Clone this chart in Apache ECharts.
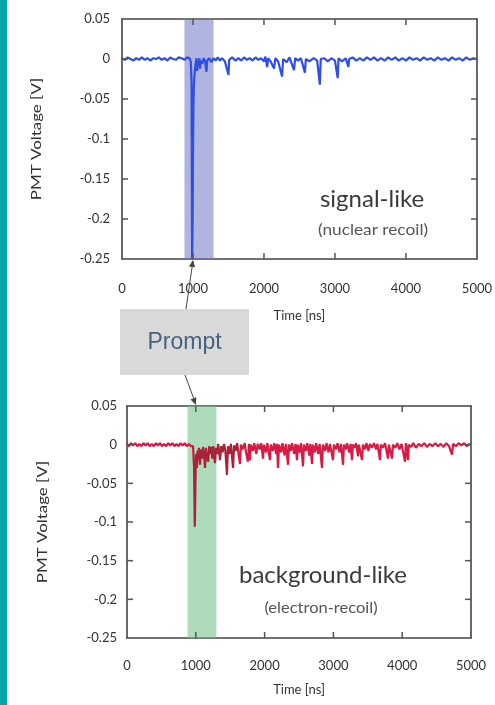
<!DOCTYPE html>
<html>
<head>
<meta charset="utf-8">
<script src="https://cdn.jsdelivr.net/npm/echarts@6/dist/echarts.min.js"></script>
<style>
html,body{margin:0;padding:0;background:#fff;}
#chart{width:495px;height:705px;filter:blur(0.4px);}
</style>
</head>
<body>
<div id="chart"></div>
<script>
// ---- data (time in ns, PMT voltage in V) ----
var timeTicks = [0, 1000, 2000, 3000, 4000, 5000];
var voltTicks = [-0.25, -0.2, -0.15, -0.1, -0.05, 0, 0.05];
var promptWindow = [880, 1290];

var signalTrace = [
[0,0.001],[40,-0.001],[80,0.002],[120,0],[160,-0.002],[200,0.001],[240,-0.001],[280,0.002],[320,-0.001],[360,0.001],
[400,-0.002],[440,0.001],[480,0],[520,0.002],[560,-0.001],[600,0.001],[640,-0.002],[680,0.002],[720,0],[760,-0.001],
[800,0.002],[840,0.001],[880,-0.001],[920,0.002],[950,0.001],[970,-0.004],[980,-0.03],[988,-0.25],[995,-0.2],[1000,-0.12],
[1006,-0.06],[1012,-0.035],[1020,-0.02],[1030,-0.012],[1040,-0.004],[1050,0.001],[1060,-0.015],[1068,-0.002],[1080,-0.008],[1090,0.001],
[1100,-0.012],[1110,-0.002],[1130,-0.006],[1150,0.001],[1170,-0.003],[1190,-0.016],[1200,-0.002],[1230,0.001],[1260,-0.004],[1290,0.001],
[1320,-0.002],[1350,0.002],[1380,-0.002],[1410,0.001],[1450,-0.003],[1500,-0.02],[1510,-0.001],[1550,0.002],[1600,-0.002],[1640,0.001],
[1680,-0.002],[1720,0.002],[1760,-0.001],[1800,0.001],[1840,-0.002],[1880,0.002],[1920,-0.001],[1960,0.001],[2000,-0.003],[2020,0.003],
[2045,-0.01],[2060,0.001],[2100,-0.004],[2143,-0.012],[2160,0.001],[2200,-0.003],[2255,-0.022],[2270,0],[2320,-0.004],[2360,0.002],
[2423,-0.014],[2440,0.001],[2480,-0.002],[2520,0.001],[2577,-0.017],[2590,0],[2640,-0.003],[2700,0.001],[2750,-0.002],[2787,-0.032],
[2800,0],[2850,0.001],[2900,-0.003],[2950,0.001],[3000,-0.002],[3039,-0.024],[3050,0.001],[3100,-0.003],[3150,0.001],[3190,-0.01],
[3200,0],[3250,0.002],[3300,-0.002],[3350,0.001],[3400,-0.002],[3450,0.002],[3500,-0.001],[3550,0.002],[3600,-0.002],[3650,0.001],
[3700,-0.002],[3750,0.002],[3800,-0.001],[3850,0.002],[3900,-0.002],[3950,0.001],[4000,-0.002],[4050,0.002],[4100,-0.001],[4150,0.001],
[4200,-0.002],[4250,0.002],[4300,-0.001],[4350,0.001],[4400,-0.002],[4450,0.002],[4500,-0.001],[4550,0.001],[4600,-0.002],[4650,0.002],
[4700,-0.001],[4750,0.001],[4800,-0.002],[4850,0.002],[4900,-0.001],[4950,0.001],[5000,0]
];

var backgroundTrace = [
[0,0.001],[30,-0.002],[60,0.002],[90,-0.001],[120,0.002],[150,-0.002],[180,0.001],[210,-0.002],[240,0.002],[270,-0.001],
[300,0.002],[330,-0.002],[360,0.001],[390,-0.002],[420,0.002],[450,-0.001],[480,0.002],[510,-0.002],[540,0.001],[570,-0.002],
[600,0.002],[630,-0.001],[660,0.002],[690,-0.002],[720,0.001],[750,-0.002],[780,0.002],[810,-0.001],[840,0.002],[870,-0.002],
[900,0.001],[930,-0.002],[960,-0.002],[975,-0.03],[985,-0.106],[992,-0.07],[998,-0.03],[1005,-0.012],[1015,-0.03],[1025,-0.008],
[1035,-0.02],[1045,-0.004],[1061,-0.026],[1075,-0.006],[1090,-0.018],[1105,-0.003],[1120,-0.014],[1134,-0.03],[1148,-0.004],[1162,-0.016],
[1180,-0.022],[1195,-0.002],[1210,-0.012],[1225,-0.003],[1240,-0.018],[1255,-0.002],[1279,-0.024],[1295,-0.004],[1310,-0.012],[1325,0.001],
[1352,-0.02],[1370,-0.002],[1390,-0.01],[1410,0.001],[1430,-0.008],[1453,-0.039],[1468,-0.002],[1490,-0.012],[1510,0.001],[1541,-0.03],
[1556,-0.001],[1580,-0.008],[1600,0.002],[1642,-0.025],[1656,0],[1680,-0.006],[1710,0.002],[1730,-0.01],[1758,-0.022],[1772,0.001],
[1788,-0.02],[1800,0],[1830,-0.008],[1850,0.002],[1880,-0.012],[1900,0.001],[1930,-0.006],[1950,0.002],[1977,-0.018],[1990,0],
[2020,-0.01],[2040,0.002],[2078,-0.02],[2090,0],[2120,-0.008],[2140,0.002],[2170,-0.012],[2180,0.001],[2195,-0.03],[2210,0],
[2240,-0.01],[2260,0.002],[2290,-0.014],[2310,0.001],[2340,-0.026],[2355,0],[2380,-0.008],[2400,0.002],[2430,-0.012],[2450,0.001],
[2471,-0.02],[2485,0],[2510,-0.01],[2530,0.002],[2558,-0.028],[2572,0],[2600,-0.008],[2620,0.002],[2650,-0.014],[2665,0.001],
[2689,-0.025],[2703,0],[2730,-0.01],[2750,0.002],[2780,-0.012],[2800,0.001],[2834,-0.03],[2848,0],[2880,-0.008],[2900,0.002],
[2930,-0.01],[2950,0.001],[2994,-0.02],[3008,0],[3040,-0.006],[3060,0.002],[3090,-0.01],[3110,0.001],[3140,-0.026],[3154,0],
[3180,-0.006],[3200,0.002],[3230,-0.01],[3250,0.001],[3270,-0.02],[3284,0],[3310,-0.004],[3330,0.002],[3358,-0.015],[3370,0],
[3390,0.002],[3416,-0.02],[3430,0],[3460,-0.006],[3480,0.002],[3510,-0.008],[3530,0.001],[3560,-0.004],[3590,0.002],[3620,-0.006],
[3640,0.001],[3677,-0.02],[3690,0],[3720,-0.004],[3750,0.002],[3794,-0.018],[3806,0],[3830,0.002],[3852,-0.018],[3865,0],
[3900,-0.004],[3930,0.002],[3960,-0.006],[3990,0.001],[4041,-0.022],[4055,0.002],[4084,-0.02],[4096,0],[4130,-0.003],[4160,0.002],
[4200,-0.004],[4240,0.001],[4280,-0.002],[4320,0.002],[4360,-0.003],[4400,0.001],[4440,-0.002],[4480,0.002],[4520,-0.002],[4560,0.001],
[4600,-0.003],[4640,0.002],[4680,-0.002],[4724,-0.013],[4740,0.001],[4780,-0.002],[4820,0.002],[4860,-0.001],[4900,0.002],[4940,-0.002],
[4980,0.001],[5000,0]
];

var titles = ['signal-like', 'background-like'];
var subtitles = ['(nuclear recoil)', '(electron-recoil)'];
var xName = 'Time [ns]';
var yName = 'PMT Voltage [V]';
var boxLabel = 'Prompt';

// ---- chart ----
var FONT = 'Lato';
var axisCol = '#444';
var tickCol = '#555';
var chart = echarts.init(document.getElementById('chart'), null, {renderer: 'canvas'});

var grids = [
  {left: 122, right: 16, top: 19, height: 240},
  {left: 127, right: 24, top: 406, height: 232}
];

function xAx(g, pos, labels, gap, margin) {
  return {
    type: 'value', gridIndex: g, position: pos, min: timeTicks[0], max: timeTicks[timeTicks.length - 1], interval: 1000,
    name: labels ? xName : '', nameLocation: 'middle', nameGap: gap,
    nameTextStyle: {fontFamily: FONT, fontSize: 13, color: '#333'},
    axisLine: {show: true, onZero: false, lineStyle: {color: axisCol, width: 1.6}},
    axisTick: {show: false},
    axisLabel: {show: labels, margin: margin, fontFamily: FONT, fontSize: 13, color: '#333',
      formatter: function (v) { return String(v); }},
    splitLine: {show: false}
  };
}
function yAx(g, pos, labels, margin) {
  return {
    type: 'value', gridIndex: g, position: pos, min: voltTicks[0], max: voltTicks[voltTicks.length - 1], interval: 0.05,
    axisLine: {show: true, onZero: false, lineStyle: {color: axisCol, width: 1.6}},
    axisTick: {show: false},
    axisLabel: {show: labels, margin: margin, fontFamily: FONT, fontSize: 13, color: '#333',
      formatter: function (v) { return String(+v.toFixed(2)); }},
    splitLine: {show: false}
  };
}

var option = {
  animation: false,
  backgroundColor: '#fff',
  grid: grids,
  xAxis: [
    xAx(0, 'bottom', true, 50, 23),
    xAx(0, 'top', false, 0, 0),
    xAx(1, 'bottom', true, 45, 21),
    xAx(1, 'top', false, 0, 0)
  ],
  yAxis: [
    yAx(0, 'left', true, 12),
    yAx(0, 'right', false, 0),
    yAx(1, 'left', true, 10),
    yAx(1, 'right', false, 0)
  ],
  visualMap: [{
    type: 'piecewise', show: false, seriesIndex: 1, dimension: 0,
    pieces: [
      {lt: 960, color: '#dc1440'},
      {gte: 960, lt: 1620, color: '#a82338'},
      {gte: 1620, color: '#d81a45'}
    ]
  }],
  series: [
    {
      type: 'line', xAxisIndex: 0, yAxisIndex: 0, data: signalTrace, showSymbol: false, clip: true,
      lineStyle: {color: '#2f4fe0', width: 2.2},
      markArea: {silent: true, itemStyle: {color: 'rgba(110,118,200,0.55)'},
        data: [[{xAxis: promptWindow[0]}, {xAxis: promptWindow[1]}]]}
    },
    {
      type: 'line', xAxisIndex: 2, yAxisIndex: 2, data: backgroundTrace, showSymbol: false, clip: true,
      lineStyle: {width: 2.2},
      markArea: {silent: true, itemStyle: {color: 'rgba(120,195,140,0.6)'},
        data: [[{xAxis: promptWindow[0]}, {xAxis: promptWindow[1] + 10}]]}
    }
  ]
};
chart.setOption(option);

// inside tick marks on all four sides, placed through the axes
var TL = 6;
var tickGraphics = [];
[0, 1].forEach(function (g) {
  var lo = chart.convertToPixel({gridIndex: g}, [timeTicks[0], voltTicks[0]]);
  var hi = chart.convertToPixel({gridIndex: g}, [timeTicks[timeTicks.length - 1], voltTicks[voltTicks.length - 1]]);
  timeTicks.slice(1, -1).forEach(function (t) {
    var p = chart.convertToPixel({gridIndex: g}, [t, voltTicks[0]]);
    tickGraphics.push({type: 'line', shape: {x1: p[0], y1: lo[1], x2: p[0], y2: lo[1] - TL}, style: {stroke: tickCol, lineWidth: 1.5}, z: 15});
    tickGraphics.push({type: 'line', shape: {x1: p[0], y1: hi[1], x2: p[0], y2: hi[1] + TL}, style: {stroke: tickCol, lineWidth: 1.5}, z: 15});
  });
  voltTicks.slice(1, -1).forEach(function (v) {
    var p = chart.convertToPixel({gridIndex: g}, [timeTicks[0], v]);
    tickGraphics.push({type: 'line', shape: {x1: lo[0], y1: p[1], x2: lo[0] + TL, y2: p[1]}, style: {stroke: tickCol, lineWidth: 1.5}, z: 15});
    tickGraphics.push({type: 'line', shape: {x1: hi[0], y1: p[1], x2: hi[0] - TL, y2: p[1]}, style: {stroke: tickCol, lineWidth: 1.5}, z: 15});
  });
});

// annotations positioned through the axes
var topTip = chart.convertToPixel({gridIndex: 0}, [1000, voltTicks[0]]);
var botTip = chart.convertToPixel({gridIndex: 1}, [1000, voltTicks[voltTicks.length - 1]]);
var box = {x: 120, y: 309, w: 129, h: 66};
var topStart = [box.x + 66, box.y];
var botStart = [box.x + 65, box.y + box.h];

function arrowHead(tip, from, size) {
  var dx = tip[0] - from[0], dy = tip[1] - from[1];
  var L = Math.sqrt(dx * dx + dy * dy); dx /= L; dy /= L;
  var bx = tip[0] - dx * size, by = tip[1] - dy * size;
  var px = -dy * size * 0.45, py = dx * size * 0.45;
  return {type: 'polygon', shape: {points: [tip, [bx + px, by + py], [bx - px, by - py]]}, style: {fill: '#444'}, z: 20};
}

chart.setOption({
  graphic: tickGraphics.concat([
    {type: 'rect', shape: {x: 0, y: 0, width: 7, height: 705}, style: {fill: '#07a4a6'}, z: 30},
    {type: 'text', x: 37, y: 139, rotation: Math.PI / 2, scaleX: 1.3,
      style: {text: yName, font: '13px ' + FONT, fill: '#333', align: 'center', verticalAlign: 'middle'}},
    {type: 'text', x: 43, y: 522, rotation: Math.PI / 2, scaleX: 1.3,
      style: {text: yName, font: '13px ' + FONT, fill: '#333', align: 'center', verticalAlign: 'middle'}},
    {type: 'text', x: 372, y: 199, style: {text: titles[0], font: '24px ' + FONT, fill: '#3a3a3a', align: 'center', verticalAlign: 'middle'}},
    {type: 'text', x: 373, y: 230, scaleX: 1.15, style: {text: subtitles[0], font: '15px ' + FONT, fill: '#555', align: 'center', verticalAlign: 'middle'}},
    {type: 'text', x: 323, y: 575, style: {text: titles[1], font: '24px ' + FONT, fill: '#3a3a3a', align: 'center', verticalAlign: 'middle'}},
    {type: 'text', x: 321, y: 608, scaleX: 1.1, style: {text: subtitles[1], font: '15px ' + FONT, fill: '#555', align: 'center', verticalAlign: 'middle'}},
    {type: 'rect', shape: {x: box.x, y: box.y, width: box.w, height: box.h}, style: {fill: '#d9d9d9'}, z: 10},
    {type: 'text', x: box.x + box.w / 2, y: box.y + box.h / 2 + 1, z: 11,
      style: {text: boxLabel, font: '23px "Liberation Sans"', fill: '#456281', align: 'center', verticalAlign: 'middle'}},
    {type: 'line', shape: {x1: topStart[0], y1: topStart[1], x2: topTip[0], y2: topTip[1] + 2}, style: {stroke: '#444', lineWidth: 1}, z: 20},
    arrowHead([topTip[0], topTip[1] + 1], topStart, 7),
    {type: 'line', shape: {x1: botStart[0], y1: botStart[1], x2: botTip[0], y2: botTip[1] - 2}, style: {stroke: '#444', lineWidth: 1}, z: 20},
    arrowHead([botTip[0], botTip[1] - 1], botStart, 7)
  ])
});
</script>
</body>
</html>
